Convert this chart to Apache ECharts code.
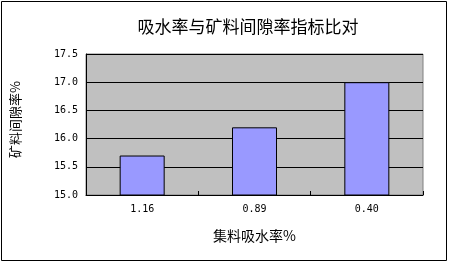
<!DOCTYPE html>
<html>
<head>
<meta charset="utf-8">
<script src="https://cdn.jsdelivr.net/npm/echarts@6/dist/echarts.min.js"></script>
<style>
html,body{margin:0;padding:0;background:#fff;}
#c{width:451px;height:263px;}
</style>
</head>
<body>
<div id="c"></div>
<script>
const titleText = '吸水率与矿料间隙率指标比对';
const xAxisName = '集料吸水率%';
const yAxisName = '矿料间隙率%';
const categories = ['1.16', '0.89', '0.40'];
const vmaValues = [15.7, 16.2, 17.0];
const yMin = 15.0, yMax = 17.5, yStep = 0.5;

const chart = echarts.init(document.getElementById('c'), null, {renderer: 'canvas'});
chart.setOption({
  animation: false,
  backgroundColor: '#ffffff',
  title: {
    text: titleText,
    left: 243, top: 13,
    textAlign: 'center',
    textStyle: {fontFamily: 'Noto Sans CJK SC', fontSize: 17, fontWeight: 'normal', color: '#000'}
  },
  graphic: [{
    type: 'rect',
    shape: {x: 1.5, y: 1.5, width: 445, height: 259},
    style: {fill: 'none', stroke: '#000', lineWidth: 1},
    z: 100
  }],
  grid: {
    left: 86, top: 54, right: 28, bottom: 68,
    show: true, backgroundColor: '#C0C0C0', borderColor: '#808080', borderWidth: 1
  },
  xAxis: {
    type: 'category',
    data: categories,
    name: xAxisName,
    nameLocation: 'middle',
    nameGap: 34,
    nameTextStyle: {fontFamily: 'Noto Sans CJK SC', fontSize: 14, color: '#000'},
    axisLine: {show: true, lineStyle: {color: '#000', width: 1}},
    axisTick: {show: true, inside: true, length: 4, lineStyle: {color: '#000'}},
    axisLabel: {fontFamily: 'DejaVu Sans Mono', fontSize: 10, color: '#000', margin: 9}
  },
  yAxis: {
    type: 'value',
    min: yMin, max: yMax, interval: yStep,
    name: yAxisName,
    nameLocation: 'middle',
    nameGap: 64,
    nameRotate: 90,
    nameTextStyle: {fontFamily: 'Noto Sans CJK SC', fontSize: 13, color: '#000', padding: [0, 0, 0, 10]},
    axisLine: {show: true, lineStyle: {color: '#000', width: 1}},
    axisTick: {show: false},
    splitLine: {show: true, lineStyle: {color: '#000', width: 1}},
    axisLabel: {fontFamily: 'DejaVu Sans Mono', fontSize: 10, color: '#000', margin: 8,
      formatter: v => v.toFixed(1)}
  },
  series: [{
    type: 'bar',
    data: vmaValues,
    barWidth: 45,
    itemStyle: {color: '#9999FF', borderColor: '#000', borderWidth: 1}
  }]
});
</script>
</body>
</html>
